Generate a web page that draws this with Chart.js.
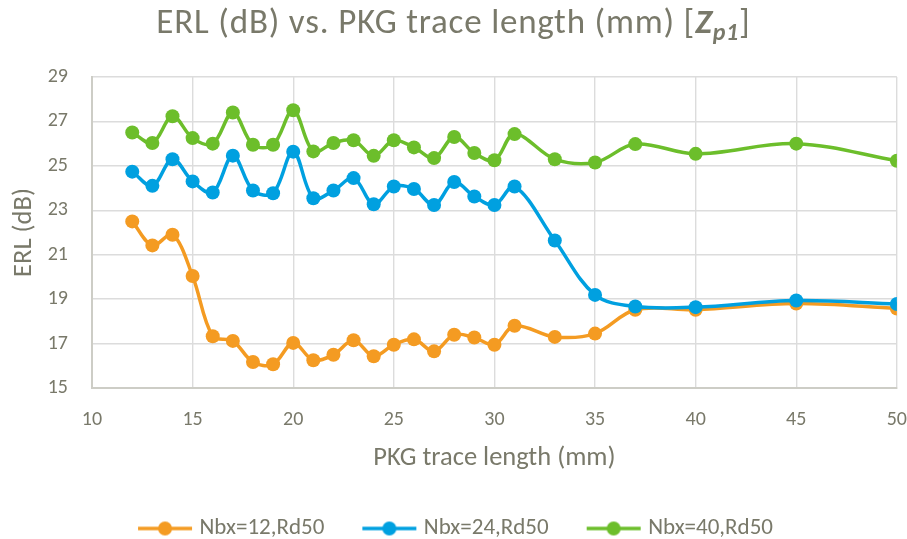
<!DOCTYPE html>
<html><head><meta charset="utf-8">
<script src="https://cdn.jsdelivr.net/npm/chart.js@4/dist/chart.umd.min.js"></script>
<style>
html,body{margin:0;padding:0;background:#fff;overflow:hidden;}
#wrap{position:relative;width:907px;height:539px;overflow:hidden;}
#title{position:absolute;top:0;left:0;width:907px;text-align:center;font-family:Carlito,Lato,sans-serif;font-size:35px;letter-spacing:0.8px;color:#79796a;line-height:42px;white-space:nowrap;}
#title sub{font-size:24px;vertical-align:-7px;line-height:0;}
canvas{position:absolute;left:0;top:0;}
</style></head><body>
<div id="wrap"><canvas id="c" width="907" height="550"></canvas><div id="title">ERL (dB) vs. PKG trace length (mm) [<b><i>Z<sub>p1</sub></i></b>]</div></div>
<script>
const traceLength = [12,13,14,15,16,17,18,19,20,21,22,23,24,25,26,27,28,29,30,31,33,35,37,40,45,50];
const erlNbx12 = [22.5,21.42,21.9,20.04,17.33,17.12,16.17,16.07,17.03,16.25,16.5,17.15,16.43,16.95,17.19,16.65,17.4,17.27,16.95,17.8,17.3,17.45,18.52,18.52,18.8,18.58];
const erlNbx24 = [24.74,24.1,25.3,24.3,23.8,25.46,23.89,23.77,25.64,23.54,23.89,24.45,23.27,24.07,23.96,23.24,24.27,23.62,23.24,24.07,21.64,19.19,18.67,18.64,18.94,18.78];
const erlNbx40 = [26.5,26.03,27.23,26.25,26.0,27.4,25.95,25.95,27.5,25.65,26.03,26.15,25.45,26.15,25.83,25.35,26.3,25.58,25.25,26.43,25.3,25.15,25.98,25.54,26.0,25.23];
const seriesNames = ['Nbx=12,Rd50','Nbx=24,Rd50','Nbx=40,Rd50'];
const seriesColors = ['#F49B22','#00A0E0','#6CBE2B'];
const xTicks = [10,15,20,25,30,35,40,45,50];
const yTicks = [15,17,19,21,23,25,27,29];

const FONT = 'Carlito, Lato, sans-serif';
const TXT = '#79796a';
const CLEAR = 'rgba(0,0,0,0)';

function swatch(color){
  const c = document.createElement('canvas');
  c.width = 60; c.height = 18;
  const g = c.getContext('2d');
  g.strokeStyle = color; g.lineWidth = 3.5;
  g.beginPath(); g.moveTo(3,9); g.lineTo(57,9); g.stroke();
  g.fillStyle = color; g.beginPath(); g.arc(30,9,7,0,Math.PI*2); g.fill();
  return c;
}
const swatches = seriesColors.map(swatch);

function mk(vals, i){
  return {
    label: seriesNames[i],
    data: traceLength.map((x,k)=>({x:x,y:vals[k]})),
    borderColor: seriesColors[i],
    backgroundColor: seriesColors[i],
    borderWidth: 3.5,
    pointRadius: 7,
    pointHoverRadius: 7,
    pointBorderWidth: 0,
    tension: 0.35,
    order: 3 - i
  };
}

new Chart(document.getElementById('c'), {
  type: 'line',
  data: { datasets: [mk(erlNbx12,0), mk(erlNbx24,1), mk(erlNbx40,2)] },
  options: {
    responsive: false,
    animation: false,
    layout: { padding: { top: 77, right: 0, left: 8, bottom: 0 } },
    plugins: {
      title: { display: false },
      tooltip: { enabled: false },
      legend: {
        position: 'bottom',
        labels: {
          usePointStyle: true,
          pointStyleWidth: 46,
          padding: 42,
          color: TXT,
          font: { family: FONT, size: 23 },
          generateLabels: (chart) => chart.data.datasets.map((d,i)=>({
            text: d.label, pointStyle: swatches[i], fillStyle: d.borderColor,
            strokeStyle: d.borderColor, lineWidth: 0, datasetIndex: i, fontColor: TXT, hidden: false
          }))
        }
      }
    },
    scales: {
      x: {
        type: 'linear', min: 10, max: 50,
        afterBuildTicks: (s) => { s.ticks = xTicks.map(v=>({value:v})); },
        afterFit: (s) => { s.height = 87; },
        ticks: { color: TXT, font: { family: FONT, size: 20 }, padding: 0, maxRotation: 0 },
        grid: { color: '#dcdcdc', lineWidth: 1.4, drawTicks: true, tickLength: 20, tickColor: CLEAR },
        border: { color: '#cdcdc6', width: 2 },
        title: { display: true, text: 'PKG trace length (mm)', color: TXT, font: { family: FONT, size: 26.5 }, padding: { top: 0, bottom: 1 } }
      },
      y: {
        min: 15, max: 29,
        afterBuildTicks: (s) => { s.ticks = yTicks.map(v=>({value:v})); },
        afterFit: (s) => { s.width = 84; },
        ticks: { color: TXT, font: { family: FONT, size: 20 }, padding: 0 },
        grid: { color: '#dcdcdc', lineWidth: 1.4, drawTicks: true, tickLength: 24, tickColor: CLEAR },
        border: { color: '#cdcdc6', width: 2 },
        title: { display: true, text: 'ERL (dB)', color: TXT, font: { family: FONT, size: 26.5 }, padding: { top: 0, bottom: 0 } }
      }
    }
  }
});
</script>
</body></html>
